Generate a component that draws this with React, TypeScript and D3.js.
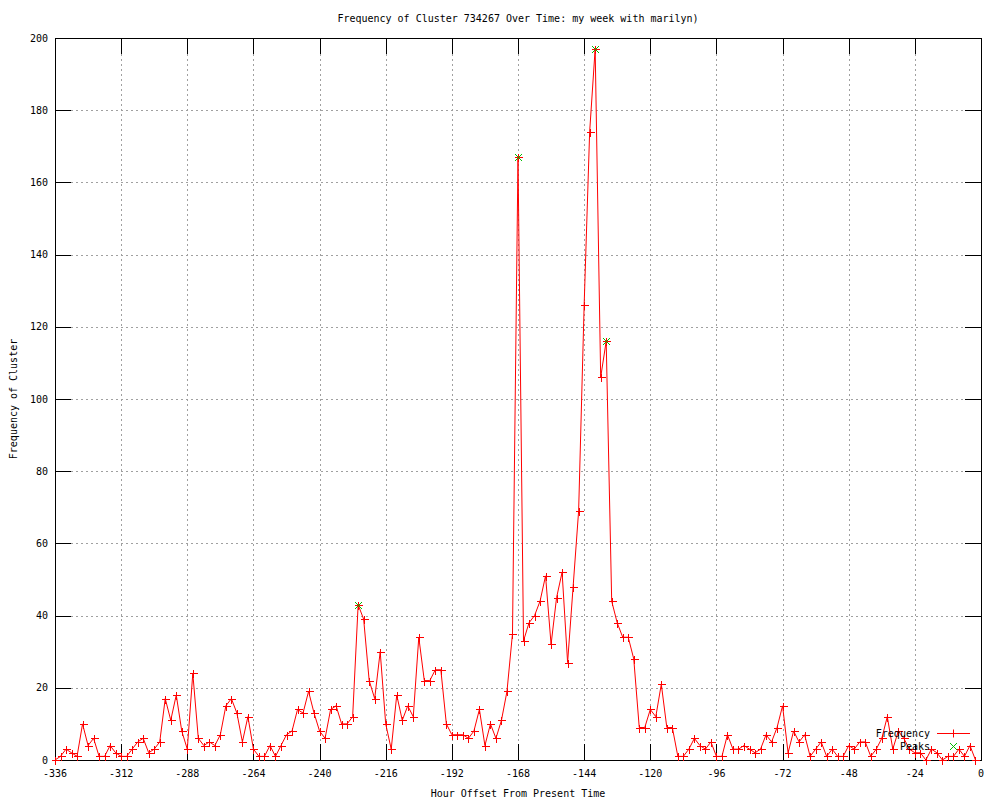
import React from "react";
import * as d3 from "d3";

const TITLE = "Frequency of Cluster 734267 Over Time: my week with marilyn)";
const X_LABEL = "Hour Offset From Present Time";
const Y_LABEL = "Frequency of Cluster";

// frequency every 2 hours, starting at -336 and ending at -2
const frequency: number[] = [
  0, 1, 3, 2, 1, 10, 4, 6, 1, 1, 4, 2, 1, 1, 3, 5, 6, 2, 3, 5,
  17, 11, 18, 8, 3, 24, 6, 4, 5, 4, 7, 15, 17, 13, 5, 12, 3, 1, 1, 4,
  1, 4, 7, 8, 14, 13, 19, 13, 8, 6, 14, 15, 10, 10, 12, 43, 39, 22, 17, 30,
  10, 3, 18, 11, 15, 12, 34, 22, 22, 25, 25, 10, 7, 7, 7, 6, 8, 14, 4, 10,
  6, 11, 19, 35, 167, 33, 38, 40, 44, 51, 32, 45, 52, 27, 48, 69, 126, 174, 197, 106,
  116, 44, 38, 34, 34, 28, 9, 9, 14, 12, 21, 9, 9, 1, 1, 3, 6, 4, 3, 5,
  1, 1, 7, 3, 3, 4, 3, 2, 3, 7, 5, 9, 15, 2, 8, 5, 7, 1, 3, 5,
  1, 3, 1, 1, 4, 3, 5, 5, 1, 3, 6, 12, 3, 8, 6, 3, 2, 2, 0, 3,
  2, 0, 1, 1, 3, 1, 4, 0,
];
const hours: number[] = frequency.map((_, i) => -336 + 2 * i);

const peakHours: number[] = [-226, -168, -140, -136];
const peakValues: number[] = [43, 167, 197, 116];

const xTicks: number[] = [-336, -312, -288, -264, -240, -216, -192, -168, -144, -120, -96, -72, -48, -24, 0];
const yTicks: number[] = [0, 20, 40, 60, 80, 100, 120, 140, 160, 180, 200];

const FONT = "'DejaVu Sans Mono', 'Liberation Mono', monospace";
const RED = "#ff0000";
const GREEN = "#00c000";
const GRID = "#a0a0a0";

export default function App() {
  const L = 55, R = 981, T = 38, B = 760;
  const x = d3.scaleLinear().domain([-336, 0]).range([L, R]);
  const y = d3.scaleLinear().domain([0, 200]).range([B, T]);
  const tick = 16;

  const line = d3
    .line<number>()
    .x((_, i) => x(hours[i]))
    .y((d) => y(d));

  const plus = (cx: number, cy: number, key: string, s = 4) => (
    <path
      key={key}
      d={`M${cx - s},${cy}H${cx + s}M${cx},${cy - s}V${cy + s}`}
      stroke={RED}
      strokeWidth={1}
      fill="none"
    />
  );
  const cross = (cx: number, cy: number, key: string, s = 3.5) => (
    <path
      key={key}
      d={`M${cx - s},${cy - s}L${cx + s},${cy + s}M${cx - s},${cy + s}L${cx + s},${cy - s}`}
      stroke={GREEN}
      strokeWidth={1}
      fill="none"
    />
  );

  return (
    <div style={{ position: "absolute", left: 0, top: 0, background: "#fff" }}>
      <svg width={1000} height={800} style={{ display: "block", background: "#fff" }}>
        <rect x={0} y={0} width={1000} height={800} fill="#fff" />
        {/* grid */}
        <g stroke={GRID} strokeWidth={1} strokeDasharray="2,3" shapeRendering="crispEdges">
          {yTicks
            .filter((t) => t !== 0 && t !== 200)
            .map((t) => (
              <line key={"gy" + t} x1={L + tick} x2={R - tick} y1={Math.round(y(t)) + 0.5} y2={Math.round(y(t)) + 0.5} />
            ))}
          {xTicks
            .filter((t) => t !== -336 && t !== 0)
            .map((t) => (
              <line key={"gx" + t} x1={Math.round(x(t)) + 0.5} x2={Math.round(x(t)) + 0.5} y1={T + tick} y2={B - tick} />
            ))}
        </g>
        {/* ticks */}
        <g stroke="#000" strokeWidth={1} shapeRendering="crispEdges">
          {yTicks.map((t) => (
            <g key={"ty" + t}>
              <line x1={L} x2={L + tick} y1={Math.round(y(t)) + 0.5} y2={Math.round(y(t)) + 0.5} />
              <line x1={R - tick} x2={R} y1={Math.round(y(t)) + 0.5} y2={Math.round(y(t)) + 0.5} />
            </g>
          ))}
          {xTicks.map((t) => (
            <g key={"tx" + t}>
              <line x1={Math.round(x(t)) + 0.5} x2={Math.round(x(t)) + 0.5} y1={B - tick} y2={B} />
              <line x1={Math.round(x(t)) + 0.5} x2={Math.round(x(t)) + 0.5} y1={T} y2={T + tick} />
            </g>
          ))}
          <rect x={L + 0.5} y={T + 0.5} width={R - L} height={B - T} fill="none" />
        </g>
        {/* tick labels */}
        <g fontFamily={FONT} fontSize={10} fill="#000">
          {yTicks.map((t) => (
            <text key={"ly" + t} x={48} y={y(t)} dy="0.35em" textAnchor="end">
              {t}
            </text>
          ))}
          {xTicks.map((t) => (
            <text key={"lx" + t} x={x(t)} y={777} textAnchor="middle">
              {t}
            </text>
          ))}
          <text x={(L + R) / 2} y={797} textAnchor="middle">
            {X_LABEL}
          </text>
          <text x={(L + R) / 2} y={22} textAnchor="middle">
            {TITLE}
          </text>
          <text transform={`translate(17, ${(T + B) / 2}) rotate(-90)`} textAnchor="middle">
            {Y_LABEL}
          </text>
        </g>
        {/* data */}
        <path d={line(frequency) || ""} stroke={RED} strokeWidth={1} fill="none" />
        <g shapeRendering="crispEdges">
          {frequency.map((v, i) => plus(Math.round(x(hours[i])) + 0.5, Math.round(y(v)) + 0.5, "p" + i))}
        </g>
        <g>
          {peakValues.map((v, i) => cross(Math.round(x(peakHours[i])) + 0.5, Math.round(y(v)) + 0.5, "k" + i))}
        </g>
        {/* legend */}
        <g fontFamily={FONT} fontSize={10} fill="#000">
          <text x={930} y={733} dy="0.35em" textAnchor="end">Frequency</text>
          <text x={930} y={746} dy="0.35em" textAnchor="end">Peaks</text>
        </g>
        <line x1={937} x2={970} y1={733.5} y2={733.5} stroke={RED} strokeWidth={1} shapeRendering="crispEdges" />
        {plus(953.5, 733.5, "legp")}
        {cross(953.5, 746.5, "legk")}
      </svg>
    </div>
  );
}
